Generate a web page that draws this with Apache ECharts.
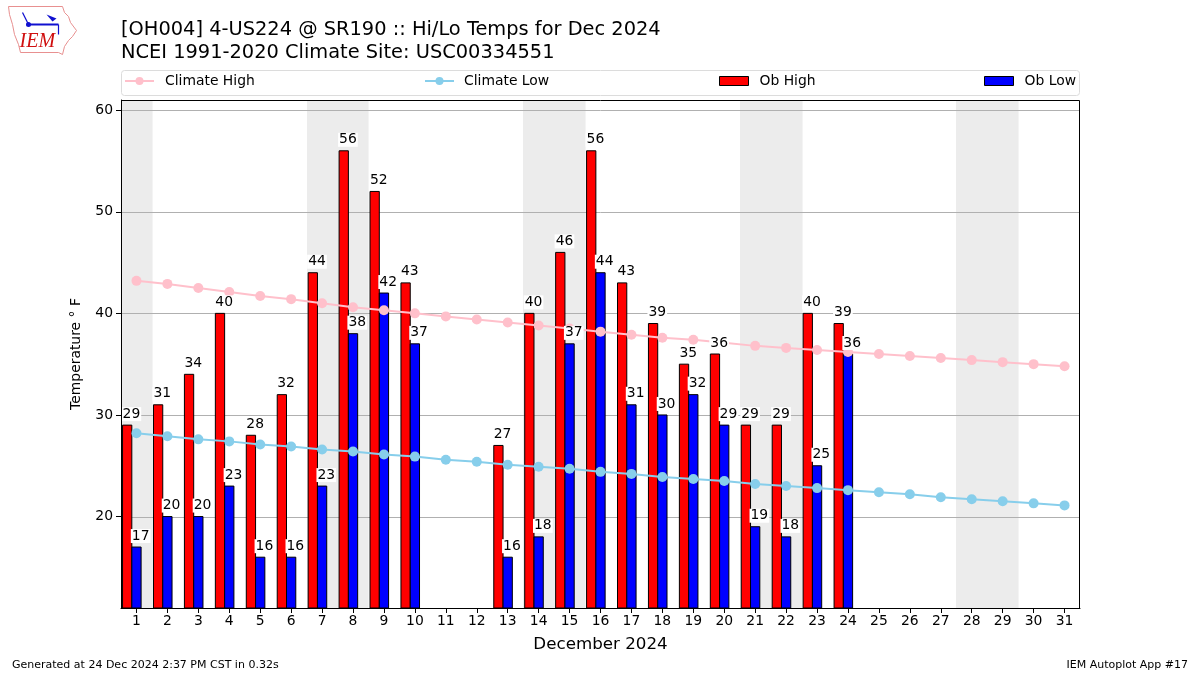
<!DOCTYPE html>
<html>
<head>
<meta charset="utf-8">
<script src="https://cdn.jsdelivr.net/npm/echarts@6/dist/echarts.min.js"></script>
<style>html,body{margin:0;padding:0;background:#fff}#c{width:1200px;height:675px}</style>
</head>
<body>
<div id="c"></div>
<script>
const days = [1,2,3,4,5,6,7,8,9,10,11,12,13,14,15,16,17,18,19,20,21,22,23,24,25,26,27,28,29,30,31];
const climateHigh = [43.2,42.9,42.5,42.1,41.7,41.4,41.0,40.6,40.3,40.0,39.7,39.4,39.1,38.8,38.5,38.2,37.9,37.6,37.4,37.1,36.8,36.6,36.4,36.2,36.0,35.8,35.6,35.4,35.2,35.0,34.8];
const climateLow = [28.2,27.9,27.6,27.4,27.1,26.9,26.6,26.4,26.1,25.9,25.6,25.4,25.1,24.9,24.7,24.4,24.2,23.9,23.7,23.5,23.2,23.0,22.8,22.6,22.4,22.2,21.9,21.7,21.5,21.3,21.1];
const obHigh = [29,31,34,40,28,32,44,56,52,43,null,null,27,40,46,56,43,39,35,36,29,29,40,39,null,null,null,null,null,null,null];
const obLow = [17,20,20,23,16,16,23,38,42,37,null,null,16,18,37,44,31,30,32,29,19,18,25,36,null,null,null,null,null,null,null];
const weekendDays = [1,7,8,14,15,21,22,28,29];
const yTicks = [20,30,40,50,60];
const titleLine1 = '[OH004] 4-US224 @ SR190 :: Hi/Lo Temps for Dec 2024';
const titleLine2 = 'NCEI 1991-2020 Climate Site: USC00334551';
const xLabel = 'December 2024';
const yLabel = 'Temperature \u00b0 F';
const footLeft = 'Generated at 24 Dec 2024 2:37 PM CST in 0.32s';
const footRight = 'IEM Autoplot App #17';

const Y_MIN = 11, Y_MAX = 61, X_MIN = 0.5, X_MAX = 31.5;
const FONT = '"DejaVu Sans", sans-serif';
const G = {left:121, top:100, right:120, bottom:67};
const GW = 1200 - G.left - G.right, GH = 675 - G.top - G.bottom;

function pairs(arr){ const out=[]; days.forEach((d,i)=>{ if(arr[i]!=null) out.push([d, arr[i]]); }); return out; }

function barRender(offset, color){
  return function(params, api){
    const d = api.value(0), v = api.value(1);
    const p0 = api.coord([d+offset-0.15, v]);
    const p1 = api.coord([d+offset+0.15, Y_MIN]);
    return {type:'rect', shape:{x:p0[0], y:p0[1], width:p1[0]-p0[0], height:p1[1]-p0[1]},
      style:{fill:color, stroke:'#000', lineWidth:1}};
  };
}
function labelRender(offset){
  return function(params, api){
    const d = api.value(0), v = api.value(1);
    const p0 = api.coord([d+offset-0.15, v]);
    return {type:'text', x:p0[0]-1, y:p0[1]-4,
      style:{text:String(v), fill:'#000', font:'13.9px '+FONT, align:'left', verticalAlign:'bottom',
        backgroundColor:'#fff', padding:[0,1,0,1]}};
  };
}

const chart = echarts.init(document.getElementById('c'), null, {renderer:'canvas'});
const option = {
  animation:false,
  backgroundColor:'#fff',
  title:{text:titleLine1+'\n'+titleLine2, left:121, top:18, padding:0,
    textStyle:{fontFamily:FONT, fontSize:19.4, fontWeight:'normal', color:'#000', lineHeight:23}},
  grid:{left:G.left, top:G.top, right:G.right, bottom:G.bottom},
  legend:[
    {data:[{name:'Climate High'}], left:124, top:74, padding:0, itemWidth:29, itemHeight:10,
      textStyle:{fontFamily:FONT, fontSize:13.9, color:'#000', padding:[0,0,0,6]}},
    {data:[{name:'Climate Low'}], left:424, top:74, padding:0, itemWidth:29, itemHeight:10,
      textStyle:{fontFamily:FONT, fontSize:13.9, color:'#000', padding:[0,0,0,5]}},
    {data:[{name:'Ob High', icon:'rect', itemStyle:{borderColor:'#000', borderWidth:1}}], left:719, top:74, padding:0, itemWidth:29, itemHeight:9,
      textStyle:{fontFamily:FONT, fontSize:13.9, color:'#000', padding:[0,0,0,6]}},
    {data:[{name:'Ob Low', icon:'rect', itemStyle:{borderColor:'#000', borderWidth:1}}], left:984, top:74, padding:0, itemWidth:29, itemHeight:9,
      textStyle:{fontFamily:FONT, fontSize:13.9, color:'#000', padding:[0,0,0,6]}}
  ],
  xAxis:{type:'value', min:X_MIN, max:X_MAX, z:10,
    name:xLabel, nameLocation:'middle', nameGap:28,
    nameTextStyle:{fontFamily:FONT, fontSize:16.7, color:'#000'},
    axisLine:{show:true, lineStyle:{color:'#000', width:1}},
    axisTick:{show:true, length:5, lineStyle:{color:'#000'}, customValues:days},
    axisLabel:{customValues:days, fontFamily:FONT, fontSize:13.9, color:'#000', margin:6},
    splitLine:{show:false}},
  yAxis:{type:'value', min:Y_MIN, max:Y_MAX, z:10,
    name:yLabel, nameLocation:'middle', nameGap:38,
    nameTextStyle:{fontFamily:FONT, fontSize:13.9, color:'#000'},
    axisLine:{show:true, lineStyle:{color:'#000', width:1}},
    axisTick:{show:true, length:5, lineStyle:{color:'#000'}, customValues:yTicks},
    axisLabel:{customValues:yTicks, fontFamily:FONT, fontSize:13.9, color:'#000', margin:8},
    splitLine:{show:false}},
  series:[
    {type:'custom', name:'weekend', z:1, silent:true, data:weekendDays.map(d=>[d, Y_MAX]),
      encode:{x:0, y:1},
      renderItem:function(params, api){
        const d = api.value(0);
        const p0 = api.coord([d-0.5, Y_MAX]);
        const p1 = api.coord([d+0.5, Y_MIN]);
        const x0 = Math.round(p0[0]), x1 = Math.round(p1[0]);
        return {type:'rect', shape:{x:x0, y:p0[1], width:x1-x0+0.6, height:p1[1]-p0[1]}, style:{fill:'#ececec'}};
      }},
    {type:'custom', name:'grid', z:1.5, silent:true, data:yTicks.map(v=>[X_MIN, v]),
      encode:{x:0, y:1},
      renderItem:function(params, api){
        const v = api.value(1);
        const p0 = api.coord([X_MIN, v]);
        const p1 = api.coord([X_MAX, v]);
        return {type:'line', shape:{x1:p0[0], y1:Math.round(p0[1])+0.5, x2:p1[0], y2:Math.round(p1[1])+0.5}, style:{stroke:'#b0b0b0', lineWidth:1}};
      }},
    {type:'custom', name:'Ob High', z:2, itemStyle:{color:'#ff0000'}, data:pairs(obHigh), encode:{x:0,y:1},
      renderItem:barRender(-0.3, '#ff0000')},
    {type:'custom', name:'Ob Low', z:2, itemStyle:{color:'#0000ff'}, data:pairs(obLow), encode:{x:0,y:1},
      renderItem:barRender(0, '#0000ff')},
    {type:'line', name:'Climate High', z:3, data:days.map((d,i)=>[d, climateHigh[i]]),
      symbol:'circle', symbolSize:10, color:'#ffc0cb', itemStyle:{color:'#ffc0cb'}, lineStyle:{color:'#ffc0cb', width:2}},
    {type:'line', name:'Climate Low', z:3, data:days.map((d,i)=>[d, climateLow[i]]),
      symbol:'circle', symbolSize:10, color:'#87ceeb', itemStyle:{color:'#87ceeb'}, lineStyle:{color:'#87ceeb', width:2}},
    {type:'custom', name:'hiLabels', z:5, silent:true, data:pairs(obHigh), encode:{x:0,y:1}, renderItem:labelRender(-0.3)},
    {type:'custom', name:'loLabels', z:5, silent:true, data:pairs(obLow), encode:{x:0,y:1}, renderItem:labelRender(0)}
  ],
  graphic:[
    {type:'rect', z:-1, shape:{x:121.5, y:70.5, width:958, height:25, r:3}, style:{fill:'#fff', stroke:'#dcdcdc', lineWidth:1}},
    {type:'rect', z:100, shape:{x:G.left+0.5, y:G.top+0.5, width:GW-1, height:GH}, style:{fill:'none', stroke:'#000', lineWidth:1}},
    {type:'text', left:12, top:660, style:{text:footLeft, font:'11px '+FONT, fill:'#000'}},
    {type:'text', right:12, top:660, style:{text:footRight, font:'11px '+FONT, fill:'#000'}},
    {type:'group', left:8, top:6, children:[
      {type:'polygon', shape:{points:[[2,2],[56,2],[58,8],[62,12],[64,18],[70,26],[66,32],[62,36],[58,42],[56,50],[52,48],[14,48],[12,40],[8,30],[6,20],[3,10]]},
        style:{fill:'#fff', stroke:'#e89090', lineWidth:1}},
      {type:'line', shape:{x1:20, y1:20, x2:52, y2:20}, style:{stroke:'#1010d0', lineWidth:2}},
      {type:'circle', shape:{cx:22, cy:20, r:2.5}, style:{fill:'#1010d0'}},
      {type:'line', shape:{x1:22, y1:20, x2:16, y2:8}, style:{stroke:'#1010d0', lineWidth:1.2}},
      {type:'polygon', shape:{points:[[40,10],[50,14],[46,17]]}, style:{fill:'#1010d0'}},
      {type:'line', shape:{x1:52, y1:20, x2:52, y2:30}, style:{stroke:'#1010d0', lineWidth:1.2}},
      {type:'text', x:13, y:27, style:{text:'IEM', font:'italic 20px "Liberation Serif", serif', fill:'#d01010'}}
    ]}
  ]
};
chart.setOption(option);
</script>
</body>
</html>
